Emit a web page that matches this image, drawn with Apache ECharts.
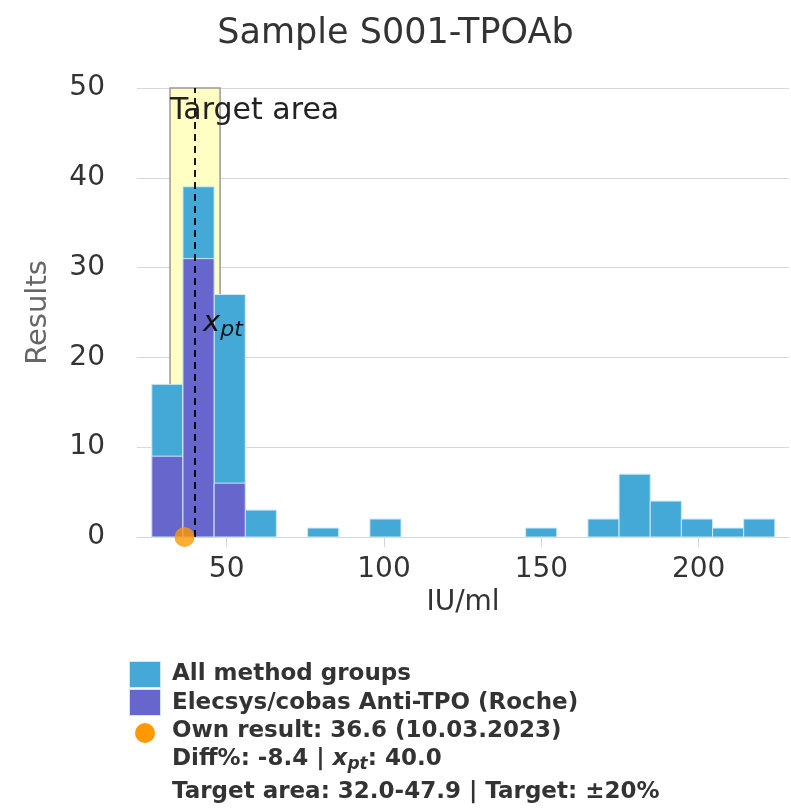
<!DOCTYPE html>
<html>
<head>
<meta charset="utf-8">
<script src="https://cdn.jsdelivr.net/npm/echarts@6/dist/echarts.min.js"></script>
<style>html,body{margin:0;padding:0;background:#fff}#c{width:791px;height:810px}</style>
</head>
<body>
<div id="c"></div>
<script>
const titleText = 'Sample S001-TPOAb';
const binStart = [26.2, 36.1, 46.0, 55.9, 65.8, 75.7, 85.6, 95.5, 105.4, 115.3, 125.2, 135.1, 145.0, 154.9, 164.8, 174.7, 184.6, 194.5, 204.4, 214.3];
const binEnd   = [36.1, 46.0, 55.9, 65.8, 75.7, 85.6, 95.5, 105.4, 115.3, 125.2, 135.1, 145.0, 154.9, 164.8, 174.7, 184.6, 194.5, 204.4, 214.3, 224.2];
const allCounts   = [17, 39, 27, 3, 0, 1, 0, 2, 0, 0, 0, 0, 1, 0, 2, 7, 4, 2, 1, 2];
const rocheCounts = [9, 31, 6, 0, 0, 0, 0, 0, 0, 0, 0, 0, 0, 0, 0, 0, 0, 0, 0, 0];
const xTicks = [50, 100, 150, 200];
const targetLow = 32.0, targetHigh = 47.9;
const xpt = 40.0;
const ownResult = 36.6;
const legendLines = ['All method groups', 'Elecsys/cobas Anti-TPO (Roche)', 'Own result: 36.6 (10.03.2023)'];

const FONT = 'DejaVu Sans';
const blue = '#44a9d6', purple = '#6666cc', orange = '#ff9900';

function binData(counts) {
  return counts.map((c, i) => [binStart[i], binEnd[i], c]);
}
function renderBar(color) {
  return function (params, api) {
    const s = api.value(0), e = api.value(1), c = api.value(2);
    if (!c) return null;
    const p1 = api.coord([s, c]);
    const p2 = api.coord([e, 0]);
    return {
      type: 'rect',
      shape: { x: p1[0], y: p1[1], width: p2[0] - p1[0], height: p2[1] - p1[1] },
      style: { fill: color, stroke: '#cfe9f5', lineWidth: 1 }
    };
  };
}

const chart = echarts.init(document.getElementById('c'));
chart.setOption({
  animation: false,
  backgroundColor: '#fff',
  textStyle: { fontFamily: FONT },
  title: {
    text: titleText, left: 'center', top: 11,
    textStyle: { fontFamily: FONT, fontSize: 35, fontWeight: 'normal', color: '#333' }
  },
  grid: { left: 137, right: 2, top: 88, bottom: 273 },
  xAxis: {
    type: 'value', min: 21.5, max: 228.7,
    name: 'IU/ml', nameLocation: 'middle', nameGap: 43,
    nameTextStyle: { fontFamily: FONT, fontSize: 28, color: '#333' },
    axisLine: { show: true, lineStyle: { color: '#ccd6eb', width: 1 } },
    axisTick: { show: true, length: 10, customValues: xTicks, lineStyle: { color: '#ccd6eb' } },
    axisLabel: { customValues: xTicks, fontFamily: FONT, fontSize: 28, color: '#333', margin: 19 },
    splitLine: { show: false }
  },
  yAxis: {
    type: 'value', min: 0, max: 50, interval: 10,
    name: 'Results', nameLocation: 'middle', nameGap: 84, nameRotate: 90,
    nameTextStyle: { fontFamily: FONT, fontSize: 29, color: '#666' },
    axisLine: { show: false }, axisTick: { show: false },
    axisLabel: { fontFamily: FONT, fontSize: 28, color: '#333', margin: 32 },
    splitLine: { lineStyle: { color: '#d8d8d8', width: 1 } }
  },
  series: [
    {
      name: 'Target', type: 'line', data: [], silent: true,
      markArea: {
        silent: true,
        itemStyle: { color: '#ffffc4', borderColor: '#999', borderWidth: 1.5 },
        label: { show: false },
        data: [[{ xAxis: targetLow, yAxis: 0 }, { xAxis: targetHigh, yAxis: 50 }]]
      },
      z: 1
    },
    {
      name: 'All method groups', type: 'custom', renderItem: renderBar(blue),
      data: binData(allCounts), encode: { x: [0, 1], y: 2 }, z: 2
    },
    {
      name: 'Elecsys/cobas Anti-TPO (Roche)', type: 'custom', renderItem: renderBar(purple),
      data: binData(rocheCounts), encode: { x: [0, 1], y: 2 }, z: 3
    },
    {
      name: 'xpt', type: 'line', data: [], silent: true, z: 4,
      markLine: {
        silent: true, symbol: 'none',
        lineStyle: { color: '#000', type: [7, 5], width: 1.8 },
        label: { show: false },
        data: [[{ coord: [xpt, 0] }, { coord: [xpt, 50] }]]
      }
    },
    {
      name: 'Own result', type: 'scatter', clip: false, z: 5,
      symbol: 'circle', symbolSize: 20,
      itemStyle: { color: orange },
      data: [[ownResult, 0]]
    }
  ],
  graphic: [
    { type: 'text', left: 170, top: 96, z: 10,
      style: { text: 'Target area', font: '30px "DejaVu Sans"', fill: '#222' } },
    { type: 'text', left: 203, top: 309, z: 10,
      style: { text: '{x|x}{s|pt}', fill: '#111',
        rich: { x: { fontFamily: FONT, fontSize: 29, fontStyle: 'italic', fill: '#111' },
                s: { fontFamily: FONT, fontSize: 22, fontStyle: 'italic', fill: '#111', padding: [14, 0, 0, 0] } } } },
    { type: 'rect', left: 129, top: 661, z: 10, shape: { width: 31, height: 26 }, style: { fill: blue, stroke: '#cfe9f5' } },
    { type: 'rect', left: 129, top: 689, z: 10, shape: { width: 31, height: 26 }, style: { fill: purple, stroke: '#cfe9f5' } },
    { type: 'circle', left: 135, top: 723, z: 10, shape: { r: 10 }, style: { fill: orange } },
    { type: 'text', left: 172, top: 663, z: 10, style: { text: legendLines[0], font: 'bold 23px "DejaVu Sans"', fill: '#333' } },
    { type: 'text', left: 172, top: 692, z: 10, style: { text: legendLines[1], font: 'bold 23px "DejaVu Sans"', fill: '#333' } },
    { type: 'text', left: 172, top: 720, z: 10, style: { text: legendLines[2], font: 'bold 23px "DejaVu Sans"', fill: '#333' } },
    { type: 'text', left: 172, top: 748, z: 10,
      style: { text: '{b|Diff%: -8.4 | }{i|x}{s|pt}{b|: 40.0}',
        rich: { b: { fontFamily: FONT, fontSize: 23, fontWeight: 'bold', fill: '#333' },
                i: { fontFamily: FONT, fontSize: 23, fontWeight: 'bold', fontStyle: 'italic', fill: '#333' },
                s: { fontFamily: FONT, fontSize: 17, fontWeight: 'bold', fontStyle: 'italic', fill: '#333', padding: [10, 0, 0, 0] } } } },
    { type: 'text', left: 172, top: 781, z: 10,
      style: { text: 'Target area: 32.0-47.9 | Target: ±20%', font: 'bold 23px "DejaVu Sans"', fill: '#333' } }
  ]
});
</script>
</body>
</html>
